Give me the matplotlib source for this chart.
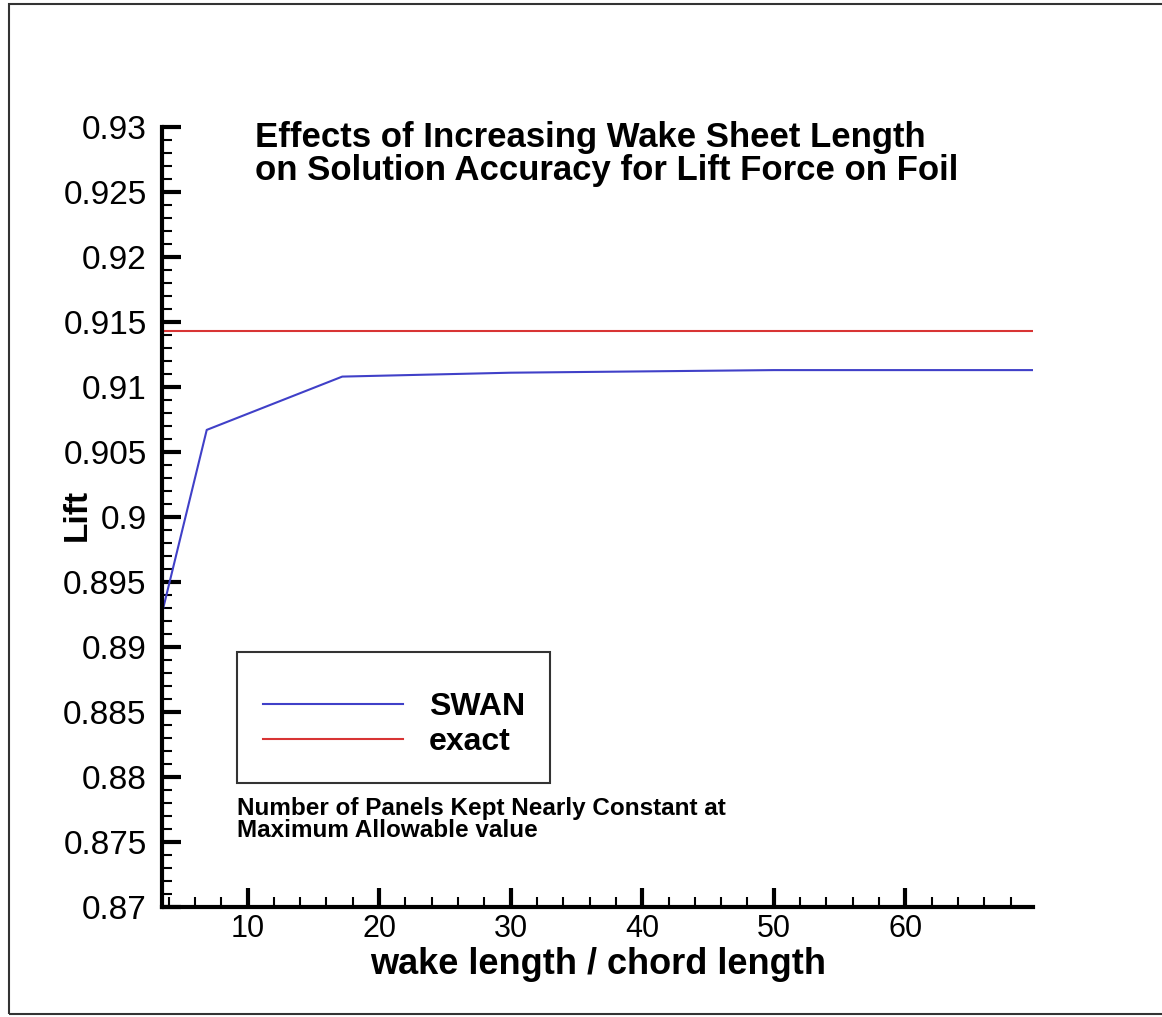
import matplotlib
matplotlib.use("Agg")
import matplotlib.pyplot as plt
from matplotlib.ticker import MultipleLocator, FormatStrFormatter
from matplotlib.patches import Rectangle

plt.rcParams["font.family"] = ["Liberation Sans", "DejaVu Sans"]

# wake length / chord length vs. computed lift
swan_x = [3.5, 6.9, 17.2, 30.0, 50.0, 69.7]
swan_lift = [0.8926, 0.9067, 0.9108, 0.9111, 0.9113, 0.9113]
exact_x = [3.5, 69.7]
exact_lift = [0.9143, 0.9143]

W, H = 1162, 1017
fig = plt.figure(figsize=(W / 100, H / 100), dpi=100)
ax = fig.add_axes([162 / W, 1 - 907 / H, (1033 - 162) / W, (907 - 127) / H])

ax.plot(swan_x, swan_lift, color="#4040c8", lw=1.5, label="SWAN")
ax.plot(exact_x, exact_lift, color="#d83434", lw=1.5, label="exact")

ax.set_xlim(3.5, 69.7)
ax.set_ylim(0.87, 0.93)
ax.xaxis.set_major_locator(MultipleLocator(10))
ax.xaxis.set_minor_locator(MultipleLocator(2))
ax.yaxis.set_major_locator(MultipleLocator(0.005))
ax.yaxis.set_minor_locator(MultipleLocator(0.001))
ax.yaxis.set_major_formatter(FormatStrFormatter("%g"))

for s in ("top", "right"):
    ax.spines[s].set_visible(False)
for s in ("left", "bottom"):
    ax.spines[s].set_linewidth(3)
ax.tick_params(which="major", direction="in", length=14, width=3)
ax.tick_params(which="minor", direction="in", length=7, width=1.5)
ax.tick_params(axis="y", which="major", labelsize=24, pad=11)
ax.tick_params(axis="x", which="major", labelsize=22, pad=5)

# blank title row gives the legend its taller top margin
leg = ax.legend(loc="upper left", bbox_to_anchor=(237 / W, 1 - 652 / H),
                bbox_transform=fig.transFigure, fontsize=23, frameon=True,
                fancybox=False, handlelength=4.4, handletextpad=0.8,
                borderpad=0.8, labelspacing=0.15, borderaxespad=0,
                title=" ", title_fontsize=7)
leg.get_frame().set_edgecolor("black")
leg.get_frame().set_linewidth(1.5)
for t in leg.get_texts():
    t.set_fontweight("bold")

fig.text(255 / W, 1 - 121 / H,
         "Effects of Increasing Wake Sheet Length\n"
         "on Solution Accuracy for Lift Force on Foil",
         fontsize=25, fontweight="bold", ha="left", va="top", linespacing=1.0)
fig.text(237 / W, 1 - 797 / H,
         "Number of Panels Kept Nearly Constant at\nMaximum Allowable value",
         fontsize=17.5, fontweight="bold", ha="left", va="top", linespacing=0.95)

fig.text(598 / W, 1 - 964 / H, "wake length / chord length",
         fontsize=26, fontweight="bold", ha="center", va="center")
fig.text(77 / W, 1 - 515 / H, "Lift", fontsize=24, fontweight="bold",
         rotation=90, ha="center", va="center")

# page frame
fig.add_artist(Rectangle((9 / W, 3 / H), 1.2, 1 - 7 / H, transform=fig.transFigure,
                         fill=False, edgecolor="#333333", lw=1.5))

fig.savefig("out.png", dpi=100)
